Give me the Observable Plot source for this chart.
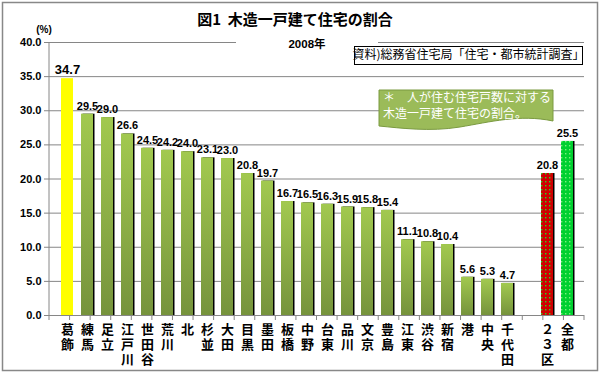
<!DOCTYPE html>
<html>
<head>
<meta charset="utf-8">
<script src="https://cdn.jsdelivr.net/npm/d3@7"></script>
<script src="https://cdn.jsdelivr.net/npm/@observablehq/plot@0.6"></script>
<style>
  body { margin: 0; background: #fff; }
  svg { font-family: "Liberation Sans", "Noto Sans CJK JP", sans-serif; }
</style>
</head>
<body>
<div id="chart"></div>
<script>
// ---- data ----
const areas = ["葛飾","練馬","足立","江戸川","世田谷","荒川","北","杉並","大田","目黒","墨田","板橋","中野","台東","品川","文京","豊島","江東","渋谷","新宿","港","中央","千代田"," ","２３区","全都"];
const values = [34.7,29.5,29.0,26.6,24.5,24.2,24.0,23.1,23.0,20.8,19.7,16.7,16.5,16.3,15.9,15.8,15.4,11.1,10.8,10.4,5.6,5.3,4.7,null,20.8,25.5];
const yTicks = [0,5,10,15,20,25,30,35,40];
const titleText = "図1  木造一戸建て住宅の割合";
const unitText = "(%)";
const yearText = "2008年";
const sourceText = "資料)総務省住宅局「住宅・都市統計調査」";
const noteLines = ["＊　人が住む住宅戸数に対する", "木造一戸建て住宅の割合。"];

const rows = areas.map((a, i) => ({area: a, value: values[i], idx: i})).filter(d => d.value != null);
const top1 = rows.filter(d => d.area === "葛飾");
const std = rows.filter(d => !["葛飾","２３区","全都"].includes(d.area));
const ku = rows.filter(d => d.area === "２３区");
const to = rows.filter(d => d.area === "全都");
const shadowed = rows.filter(d => d.area !== "葛飾");

const W = 600, H = 374;
const chart = Plot.plot({
  width: W, height: H,
  marginLeft: 49, marginRight: 16, marginTop: 42, marginBottom: 59,
  style: {fontFamily: '"Liberation Sans", "Noto Sans CJK JP", sans-serif', background: "#fff"},
  x: {type: "band", domain: areas, paddingInner: 0.416, paddingOuter: 0.218, label: null},
  y: {domain: [0, 40], label: null},
  marks: [
    Plot.gridY(yTicks.filter(d => d > 0), {stroke: "#868686", strokeOpacity: 1, strokeWidth: 1}),
    Plot.barY(shadowed, {x: "area", y: "value", fill: "#000", dx: 1.5}),
    Plot.barY(std, {x: "area", y: "value", fill: "url(#gGreen)"}),
    Plot.barY(top1, {x: "area", y: "value", fill: "#FFFF00"}),
    Plot.barY(ku, {x: "area", y: "value", fill: "url(#pRed)"}),
    Plot.barY(to, {x: "area", y: "value", fill: "url(#pGreen)"}),
    Plot.ruleY([0], {stroke: "#868686", strokeWidth: 1}),
    Plot.axisY({ticks: yTicks, tickFormat: d => d.toFixed(1), tickSize: 5, tickPadding: 3,
      stroke: "#868686", fill: "#000", fontWeight: "bold", fontSize: 11}),
    Plot.axisX({tickFormat: d => [...d.trim()].join("\n"), tickSize: 0, tickPadding: 8,
      lineHeight: 1.16, fill: "#000", fontWeight: "bold", fontSize: 13, textAnchor: "middle"}),
    Plot.text(rows.filter(d => d.area !== "葛飾"), {x: "area", y: "value", text: d => d.value.toFixed(1),
      dy: -8, fontWeight: "bold", fontSize: 11, fill: "#000"}),
    Plot.text(top1, {x: "area", y: "value", text: d => d.value.toFixed(1),
      dy: -9, fontWeight: "bold", fontSize: 13, fill: "#000"})
  ]
});

// defs for gradient / patterns
const ns = "http://www.w3.org/2000/svg";
const defs = document.createElementNS(ns, "defs");
defs.innerHTML = `
  <linearGradient id="gGreen" x1="0" y1="0" x2="0" y2="1">
    <stop offset="0" stop-color="#A2C94F"/>
    <stop offset="1" stop-color="#76933C"/>
  </linearGradient>
  <pattern id="pRed" width="4" height="4" patternUnits="userSpaceOnUse">
    <rect width="4" height="4" fill="#D00000"/>
    <rect x="1" y="1" width="1.4" height="1.4" fill="#22DD22"/>
  </pattern>
  <pattern id="pGreen" width="4" height="4" patternUnits="userSpaceOnUse">
    <rect width="4" height="4" fill="#00D030"/>
    <rect x="1" y="1" width="1.4" height="1.4" fill="#7CF27C"/>
  </pattern>`;
chart.insertBefore(defs, chart.firstChild);

const xs = chart.scale("x"), ys = chart.scale("y");
const svg = d3.select(chart);
const x0 = xs.range[0], x1 = xs.range[1];
const yBot = ys.apply(0), yTop = ys.apply(40);
const step = (x1 - x0) / areas.length;

// y axis line
svg.append("line").attr("x1", x0).attr("x2", x0).attr("y1", yTop).attr("y2", yBot)
  .attr("stroke", "#868686");
// x boundary ticks
const g = svg.append("g").attr("stroke", "#868686");
for (let k = 0; k <= areas.length; k++) {
  const xx = x0 + k * step;
  g.append("line").attr("x1", xx).attr("x2", xx).attr("y1", yBot).attr("y2", yBot + 5);
}

// title
svg.append("text").attr("x", 295).attr("y", 21).attr("text-anchor", "middle")
  .attr("dominant-baseline", "middle").attr("font-size", 15).attr("font-weight", "bold")
  .attr("font-family", '"Noto Sans CJK JP", sans-serif').text(titleText);
svg.append("text").attr("x", 44).attr("y", 30).attr("text-anchor", "middle")
  .attr("dominant-baseline", "middle").attr("font-size", 10).attr("font-weight", "bold").text(unitText);

// 2008年 with white backing breaking the top gridline
svg.append("rect").attr("x", 236).attr("y", 37).attr("width", 142).attr("height", 14).attr("fill", "#fff");
svg.append("text").attr("x", 307).attr("y", 45).attr("text-anchor", "middle")
  .attr("dominant-baseline", "middle").attr("font-size", 11.5).attr("font-weight", "bold").text(yearText);

// source box
svg.append("rect").attr("x", 354.5).attr("y", 46.5).attr("width", 228).attr("height", 18)
  .attr("fill", "#fff").attr("stroke", "#000");
svg.append("text").attr("x", 468.5).attr("y", 56).attr("text-anchor", "middle")
  .attr("dominant-baseline", "middle").attr("font-size", 12)
  .attr("font-family", '"Noto Sans CJK JP", sans-serif').text(sourceText);

// note box (document shape)
svg.append("path")
  .attr("d", "M379,90 H553 V121 C520,114 490,122 460,127 C430,132 400,128 379,126 Z")
  .attr("fill", "#9BBB59").attr("stroke", "#7A9A40").attr("stroke-width", 1);
noteLines.forEach((t, i) => {
  svg.append("text").attr("x", 383).attr("y", 99 + i * 15.5).attr("text-anchor", "start")
    .attr("dominant-baseline", "middle").attr("font-size", 12).attr("fill", "#fff")
    .attr("font-family", '"Noto Sans CJK JP", sans-serif').text(t);
});

// outer frame
svg.append("rect").attr("x", 2.5).attr("y", 2.5).attr("width", W - 5).attr("height", H - 6)
  .attr("fill", "none").attr("stroke", "#888").attr("stroke-width", 1.5);

document.getElementById("chart").appendChild(chart);
</script>
</body>
</html>
